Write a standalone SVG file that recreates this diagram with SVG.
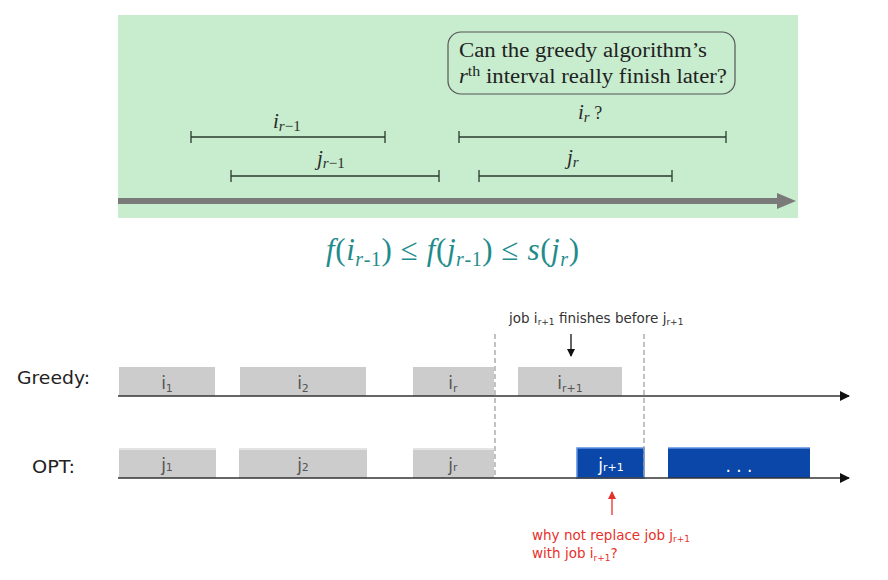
<svg xmlns="http://www.w3.org/2000/svg" width="888" height="580" viewBox="0 0 888 580">
<defs>
<style>
.iv{stroke:#2b3a2e;stroke-width:1.3;fill:none}
.lbl{font-family:"Liberation Serif",serif;font-style:italic;font-size:21px;fill:#2b2b2b}
.sub{font-size:15px}
.up{font-style:normal}
.box{font-family:"Liberation Serif",serif;font-size:20px;fill:#222}
.formula{font-family:"Liberation Serif",serif;font-size:31px;fill:#1f8c8c}
.side{font-family:"DejaVu Sans",sans-serif;font-size:18px;fill:#222}
.gbox{fill:#cccccc}
.gtop{stroke:#e4e4e4;stroke-width:2}
.blbl{font-family:"DejaVu Sans",sans-serif;font-size:17px;fill:#555;text-anchor:middle}
.bsub{font-size:11px}
.axis{stroke:#333;stroke-width:1.6}
.dash{stroke:#999;stroke-width:1.2;stroke-dasharray:5,3}
.note{font-family:"DejaVu Sans",sans-serif;font-size:13.5px;fill:#333}
.red{font-family:"DejaVu Sans",sans-serif;font-size:13.5px;fill:#e8302a}
.nsub{font-size:9px}
</style>
<marker id="ah" markerWidth="10" markerHeight="10" refX="9" refY="5" orient="auto" markerUnits="userSpaceOnUse">
<path d="M0,0 L10,5 L0,10 z" fill="#111"/>
</marker>
<marker id="ahs" markerWidth="8" markerHeight="8" refX="7" refY="4" orient="auto" markerUnits="userSpaceOnUse">
<path d="M0,0 L8,4 L0,8 z" fill="#111"/>
</marker>
<marker id="ahr" markerWidth="8" markerHeight="8" refX="7" refY="4" orient="auto" markerUnits="userSpaceOnUse">
<path d="M0,0 L8,4 L0,8 z" fill="#e8302a"/>
</marker>
</defs>

<g id="top-panel">
<rect x="118" y="15" width="680" height="203" fill="#c7ecce"/>
</g>

<g id="question-box">
<rect x="448" y="32" width="287" height="62" rx="13" ry="13" fill="none" stroke="#555" stroke-width="1.2"/>
<text class="box" x="459" y="57" textLength="248" lengthAdjust="spacingAndGlyphs">Can the greedy algorithm’s</text>
<text class="box" x="459" y="83" textLength="268" lengthAdjust="spacingAndGlyphs"><tspan font-style="italic">r</tspan><tspan font-size="14" dy="-7">th</tspan><tspan dy="7"> interval really finish later?</tspan></text>
</g>

<g id="interval-i-r-1">
<path class="iv" d="M191,137 H385 M191,131 V143 M385,131 V143"/>
<text class="lbl" x="273" y="128">i<tspan class="sub" dy="3">r<tspan class="up">−1</tspan></tspan></text>
</g>
<g id="interval-j-r-1">
<path class="iv" d="M231,176 H439 M231,170 V182 M439,170 V182"/>
<text class="lbl" x="317" y="165">j<tspan class="sub" dy="3">r<tspan class="up">−1</tspan></tspan></text>
</g>
<g id="interval-i-r">
<path class="iv" d="M459,137 H726 M459,131 V143 M726,131 V143"/>
<text class="lbl" x="578" y="119">i<tspan class="sub" dy="3">r</tspan><tspan dy="-3" class="up" font-size="18"> ?</tspan></text>
</g>
<g id="interval-j-r">
<path class="iv" d="M479,176 H672 M479,170 V182 M672,170 V182"/>
<text class="lbl" x="567" y="164">j<tspan class="sub" dy="3">r</tspan></text>
</g>

<g id="connectors-top">
<line x1="118" y1="201" x2="780" y2="201" stroke="#7a7a7a" stroke-width="6"/>
<path d="M777,193 L796,201 L777,209 z" fill="#7a7a7a"/>
</g>

<g id="formula">
<text class="formula" x="326" y="260" textLength="253" lengthAdjust="spacing"><tspan font-style="italic">f</tspan>(<tspan font-style="italic">i</tspan><tspan font-size="20" dy="6"><tspan font-style="italic">r</tspan>-1</tspan><tspan dy="-6">) ≤ </tspan><tspan font-style="italic">f</tspan>(<tspan font-style="italic">j</tspan><tspan font-size="20" dy="6"><tspan font-style="italic">r</tspan>-1</tspan><tspan dy="-6">) ≤ </tspan><tspan font-style="italic">s</tspan>(<tspan font-style="italic">j</tspan><tspan font-size="20" dy="6" font-style="italic">r</tspan><tspan dy="-6">)</tspan></text>
</g>

<g id="label-greedy"><text class="side" x="17" y="384" textLength="73" lengthAdjust="spacingAndGlyphs">Greedy:</text></g>
<g id="label-opt"><text class="side" x="32" y="473" textLength="43" lengthAdjust="spacingAndGlyphs">OPT:</text></g>

<g id="box-i1"><rect class="gbox" x="119" y="367" width="96" height="29"/><text class="blbl" x="167" y="389">i<tspan class="bsub" dy="3">1</tspan></text></g>
<g id="box-i2"><rect class="gbox" x="240" y="367" width="126" height="29"/><text class="blbl" x="303" y="389">i<tspan class="bsub" dy="3">2</tspan></text></g>
<g id="box-ir"><rect class="gbox" x="413" y="367" width="81" height="29"/><text class="blbl" x="453" y="389">i<tspan class="bsub" dy="3">r</tspan></text></g>
<g id="box-ir1"><rect class="gbox" x="518" y="367" width="104" height="29"/><text class="blbl" x="570" y="389">i<tspan class="bsub" dy="3">r+1</tspan></text></g>

<g id="box-j1"><rect class="gbox" x="119" y="449" width="97" height="29"/><line class="gtop" x1="119" y1="449" x2="216" y2="449"/><text class="blbl" x="167" y="471">j<tspan class="bsub">1</tspan></text></g>
<g id="box-j2"><rect class="gbox" x="239" y="449" width="128" height="29"/><line class="gtop" x1="239" y1="449" x2="367" y2="449"/><text class="blbl" x="303" y="471">j<tspan class="bsub">2</tspan></text></g>
<g id="box-jr"><rect class="gbox" x="413" y="449" width="81" height="29"/><line class="gtop" x1="413" y1="449" x2="494" y2="449"/><text class="blbl" x="453" y="471">j<tspan class="bsub">r</tspan></text></g>
<g id="box-jr1"><rect x="577" y="448" width="67" height="30" fill="#0a47a8" stroke="#5b8fe0" stroke-width="1.5"/><text class="blbl" x="611" y="471" style="fill:#fff">j<tspan class="bsub">r+1</tspan></text></g>
<g id="box-dots"><rect x="668" y="448" width="142" height="30" fill="#0a47a8"/><line x1="668" y1="448" x2="810" y2="448" stroke="#5b8fe0" stroke-width="1.5"/><text class="blbl" x="739" y="472" style="fill:#fff" font-size="14">. . .</text></g>

<g id="note-top"><text class="note" x="509" y="323">job i<tspan class="nsub" dy="2">r+1</tspan><tspan dy="-2"> finishes before j</tspan><tspan class="nsub" dy="2">r+1</tspan></text></g>
<g id="note-red"><text class="red" x="532" y="540">why not replace job j<tspan class="nsub" dy="2">r+1</tspan></text><text class="red" x="532" y="558">with job i<tspan class="nsub" dy="3">r+1</tspan><tspan dy="-3">?</tspan></text></g>

<g id="connectors">
<line class="axis" x1="118" y1="396" x2="849" y2="396" marker-end="url(#ah)"/>
<line class="axis" x1="118" y1="478" x2="849" y2="478" marker-end="url(#ah)"/>
<line class="dash" x1="495" y1="334" x2="495" y2="478"/>
<line class="dash" x1="644" y1="334" x2="644" y2="478"/>
<line x1="571" y1="334" x2="571" y2="356" stroke="#111" stroke-width="1.3" marker-end="url(#ahs)"/>
<line x1="612" y1="515" x2="612" y2="492" stroke="#e8302a" stroke-width="1.3" marker-end="url(#ahr)"/>
</g>
</svg>
